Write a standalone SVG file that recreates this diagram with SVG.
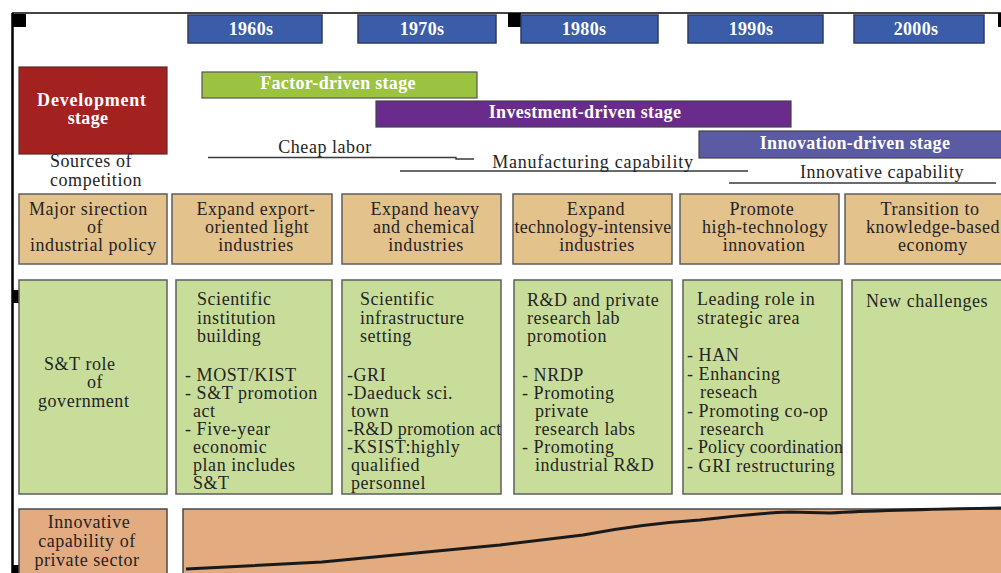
<svg xmlns="http://www.w3.org/2000/svg" width="1001" height="573" viewBox="0 0 1001 573">
<style>
.t{font-family:"Liberation Serif","Times New Roman",serif;font-size:18px;fill:#242424;letter-spacing:0.55px}
.c{text-anchor:middle}
.w{font-family:"Liberation Serif","Times New Roman",serif;font-weight:bold;font-size:18px;fill:#ffffff;text-anchor:middle;letter-spacing:0.3px}
.dec{fill:#3b5ca9;stroke:#2e3b60;stroke-width:1.5}
.tan{fill:#e3c28b;stroke:#5e5e5e;stroke-width:1.5}
.grn{fill:#c9dd9b;stroke:#5e5e5e;stroke-width:1.5}
.org{fill:#e3ab80;stroke:#4a4a4a;stroke-width:1.5}
.ul{stroke:#3a3a3a;stroke-width:1.4;fill:none}
.h{fill:#000}
</style>
<rect width="1001" height="573" fill="#ffffff"/>
<g id="frame">
<line x1="12" y1="13" x2="1001" y2="13" stroke="#444" stroke-width="2"/>
<line x1="12.5" y1="13" x2="12.5" y2="573" stroke="#000" stroke-width="2.5"/>
<rect class="h" x="12" y="14" width="14" height="13"/>
<rect class="h" x="508" y="13" width="13" height="14"/>
<rect class="h" x="998" y="13" width="3" height="14"/>
<rect class="h" x="12" y="290" width="14" height="13"/>
<rect class="h" x="997" y="297" width="4" height="9"/>
<rect class="h" x="12" y="565" width="14" height="8"/>
<rect class="h" x="508" y="565" width="13" height="8"/>
<rect class="h" x="998" y="565" width="3" height="8"/>
</g>
<g id="decade-1960s"><rect class="dec" x="188" y="15" width="134" height="28"/><text class="w" x="251" y="35">1960s</text></g>
<g id="decade-1970s"><rect class="dec" x="358" y="15" width="138" height="28"/><text class="w" x="422" y="35">1970s</text></g>
<g id="decade-1980s"><rect class="dec" x="521" y="15" width="137" height="28"/><text class="w" x="584" y="35">1980s</text></g>
<g id="decade-1990s"><rect class="dec" x="688" y="15" width="135" height="28"/><text class="w" x="751" y="35">1990s</text></g>
<g id="decade-2000s"><rect class="dec" x="854" y="15" width="130" height="28"/><text class="w" x="916" y="35">2000s</text></g>
<g id="development-stage"><rect x="19" y="67" width="148" height="87" fill="#a3221f" stroke="#5a2a28" stroke-width="1.2"/><text class="w" x="92" y="106" style="letter-spacing:0.8px">Development</text><text class="w" x="88" y="124">stage</text></g>
<g id="factor-driven"><rect x="202" y="72" width="275" height="26" fill="#9bc33f" stroke="#555" stroke-width="1.2"/><text class="w" x="338" y="89">Factor-driven stage</text></g>
<g id="investment-driven"><rect x="376" y="101" width="415" height="26" fill="#6a2c8c" stroke="#444" stroke-width="1.2"/><text class="w" x="585" y="118">Investment-driven stage</text></g>
<g id="innovation-driven"><rect x="699" y="131" width="303" height="27" fill="#5a5aa5" stroke="#444" stroke-width="1.2"/><text class="w" x="855" y="149">Innovation-driven stage</text></g>
<g id="sources-of-competition"><text class="t" x="50" y="167">Sources of</text><text class="t" x="50" y="186">competition</text></g>
<g id="capability-lines">
<polyline class="ul" points="208,157.5 456,157.5 456,159 474,159"/>
<line class="ul" x1="400" y1="171" x2="748" y2="171"/>
<line class="ul" x1="729" y1="183" x2="996" y2="183"/>
</g>
<g id="cheap-labor"><text class="t c" x="325" y="153">Cheap labor</text></g>
<g id="manufacturing-capability"><text class="t c" x="593" y="168" style="letter-spacing:0.8px">Manufacturing capability</text></g>
<g id="innovative-capability"><text class="t c" x="882" y="178">Innovative capability</text></g>
<g id="policy-label"><rect class="tan" x="19" y="194" width="148" height="70"/><text class="t" x="29" y="215">Major sirection</text><text class="t" x="87" y="233">of</text><text class="t" x="30" y="251">industrial policy</text></g>
<g id="policy-1960s"><rect class="tan" x="172" y="194" width="160" height="70"/><text class="t c" x="256" y="215">Expand export-</text><text class="t c" x="257" y="233">oriented light</text><text class="t c" x="256" y="251">industries</text></g>
<g id="policy-1970s"><rect class="tan" x="342" y="194" width="159" height="70"/><text class="t c" x="425" y="215">Expand heavy</text><text class="t c" x="424" y="233">and chemical</text><text class="t c" x="426" y="251">industries</text></g>
<g id="policy-1980s"><rect class="tan" x="513" y="194" width="159" height="70"/><text class="t c" x="596" y="215">Expand</text><text class="t c" x="593" y="233" style="letter-spacing:0.3px">technology-intensive</text><text class="t c" x="597" y="251">industries</text></g>
<g id="policy-1990s"><rect class="tan" x="680" y="194" width="159" height="70"/><text class="t c" x="762" y="215">Promote</text><text class="t c" x="765" y="233">high-technology</text><text class="t c" x="764" y="251">innovation</text></g>
<g id="policy-2000s"><rect class="tan" x="845" y="194" width="160" height="70"/><text class="t c" x="930" y="215">Transition to</text><text class="t c" x="933" y="233">knowledge-based</text><text class="t c" x="933" y="251">economy</text></g>
<g id="st-role-label"><rect class="grn" x="19" y="280" width="148" height="214"/><text class="t" x="44" y="370">S&amp;T role</text><text class="t" x="87" y="388">of</text><text class="t" x="38" y="407">government</text></g>
<g id="st-1960s"><rect class="grn" x="176" y="280" width="156" height="214"/>
<text class="t" x="197" y="305">Scientific</text><text class="t" x="197" y="324">institution</text><text class="t" x="197" y="342">building</text>
<text class="t" x="185" y="381">- MOST/KIST</text><text class="t" x="185" y="399">- S&amp;T promotion</text><text class="t" x="193" y="417">act</text><text class="t" x="185" y="435">- Five-year</text><text class="t" x="193" y="453">economic</text><text class="t" x="193" y="471">plan includes</text><text class="t" x="193" y="489">S&amp;T</text></g>
<g id="st-1970s"><rect class="grn" x="342" y="280" width="159" height="214"/>
<text class="t" x="360" y="305">Scientific</text><text class="t" x="360" y="324">infrastructure</text><text class="t" x="360" y="342">setting</text>
<text class="t" x="347" y="381">-GRI</text><text class="t" x="347" y="399">-Daeduck sci.</text><text class="t" x="351" y="417">town</text><text class="t" x="347" y="435" style="letter-spacing:0.25px">-R&amp;D promotion act</text><text class="t" x="347" y="453">-KSIST:highly</text><text class="t" x="351" y="471">qualified</text><text class="t" x="351" y="489">personnel</text></g>
<g id="st-1980s"><rect class="grn" x="514" y="280" width="158" height="214"/>
<text class="t" x="527" y="306">R&amp;D and private</text><text class="t" x="527" y="324">research lab</text><text class="t" x="527" y="342">promotion</text>
<text class="t" x="522" y="381">- NRDP</text><text class="t" x="522" y="399">- Promoting</text><text class="t" x="535" y="417">private</text><text class="t" x="535" y="435">research labs</text><text class="t" x="522" y="453">- Promoting</text><text class="t" x="535" y="471">industrial R&amp;D</text></g>
<g id="st-1990s"><rect class="grn" x="683" y="280" width="159" height="214"/>
<text class="t" x="697" y="305">Leading role in</text><text class="t" x="697" y="324">strategic area</text>
<text class="t" x="687" y="361">- HAN</text><text class="t" x="687" y="380">- Enhancing</text><text class="t" x="700" y="398">reseach</text><text class="t" x="687" y="417">- Promoting co-op</text><text class="t" x="700" y="435">research</text><text class="t" x="687" y="453" style="letter-spacing:0.2px">- Policy coordination</text><text class="t" x="687" y="472">- GRI restructuring</text></g>
<g id="st-2000s"><rect class="grn" x="852" y="280" width="155" height="214"/><text class="t" x="866" y="307">New challenges</text></g>
<g id="private-label"><rect class="org" x="19" y="509" width="148" height="70"/><text class="t c" x="89" y="528">Innovative</text><text class="t c" x="87" y="547">capability of</text><text class="t c" x="87" y="566">private sector</text></g>
<g id="private-curve"><rect class="org" x="183" y="509" width="822" height="70"/>
<path d="M186,569 L322,562 Q420,553 500,545 L583,535 Q640,524 700,520 Q760,513 790,512 L830,513 Q880,510 1001,508" fill="none" stroke="#1a1a1a" stroke-width="3"/></g>
</svg>
